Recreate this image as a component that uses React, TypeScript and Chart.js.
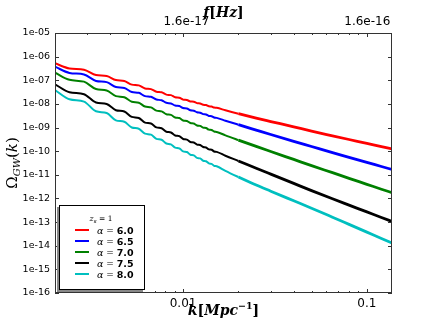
import React, { useEffect, useRef } from "react";
import { Chart, registerables } from "chart.js";

Chart.register(...registerables);

// wave number k [Mpc^-1] sample points
const kValues = [
  0.00201,
  0.00241, 0.00289,
  0.00336, 0.00384,
  0.00431, 0.00479,
  0.00526, 0.00574,
  0.00621, 0.00669,
  0.00716, 0.00764,
  0.00811, 0.00859,
  0.00906, 0.00954,
  0.01001, 0.01049,
  0.01096, 0.01144,
  0.01191, 0.01239,
  0.01286, 0.01334,
  0.01381, 0.01429,
  0.01476, 0.01524,
  0.017, 0.02, 0.025, 0.03, 0.04, 0.05, 0.065, 0.08, 0.1, 0.12, 0.137,
];

const omegaAlpha60 = [
  5.22e-7,
  3.16e-7, 2.79e-7,
  1.66e-7, 1.51e-7,
  1.022e-7, 9.36e-8,
  6.55e-8, 6.08e-8,
  4.5e-8, 4.22e-8,
  3.28e-8, 3.1e-8,
  2.47e-8, 2.35e-8,
  1.91e-8, 1.83e-8,
  1.52e-8, 1.46e-8,
  1.27e-8, 1.23e-8,
  1.08e-8, 1.04e-8,
  9.22e-9, 8.95e-9,
  7.95e-9, 7.75e-9,
  6.99e-9, 6.83e-9,
  5.37e-9, 3.85e-9, 2.51e-9, 1.8e-9, 1.07e-9, 7.07e-10, 4.47e-10, 3.12e-10, 2.13e-10, 1.55e-10, 1.24e-10,
];

const omegaAlpha65 = [
  3.75e-7,
  2.05e-7, 1.76e-7,
  9.4e-8, 8.37e-8,
  5.19e-8, 4.72e-8,
  3.2e-8, 2.95e-8,
  2.13e-8, 1.99e-8,
  1.53e-8, 1.43e-8,
  1.11e-8, 1.05e-8,
  8.53e-9, 8.12e-9,
  6.66e-9, 6.38e-9,
  5.37e-9, 5.16e-9,
  4.41e-9, 4.25e-9,
  3.7e-9, 3.57e-9,
  3.1e-9, 3.0e-9,
  2.65e-9, 2.57e-9,
  1.95e-9, 1.32e-9, 7.8e-10, 5.08e-10, 2.62e-10, 1.58e-10, 8.71e-11, 5.51e-11, 3.35e-11, 2.25e-11, 1.68e-11,
];

const omegaAlpha70 = [
  2.09e-7,
  1.043e-7, 8.75e-8,
  4.25e-8, 3.71e-8,
  2.14e-8, 1.92e-8,
  1.235e-8, 1.127e-8,
  7.73e-9, 7.14e-9,
  5.2e-9, 4.85e-9,
  3.65e-9, 3.43e-9,
  2.67e-9, 2.52e-9,
  2.0e-9, 1.9e-9,
  1.56e-9, 1.48e-9,
  1.226e-9, 1.174e-9,
  9.93e-10, 9.55e-10,
  8.14e-10, 7.84e-10,
  6.77e-10, 6.53e-10,
  4.67e-10, 2.95e-10, 1.59e-10, 9.7e-11, 4.47e-11, 2.45e-11, 1.23e-11, 7.11e-12, 3.97e-12, 2.46e-12, 1.75e-12,
];

const omegaAlpha75 = [
  6.75e-8,
  3.12e-8, 2.57e-8,
  1.152e-8, 9.94e-9,
  5.43e-9, 4.77e-9,
  2.83e-9, 2.54e-9,
  1.62e-9, 1.48e-9,
  1.016e-9, 9.34e-10,
  6.68e-10, 6.2e-10,
  4.62e-10, 4.31e-10,
  3.27e-10, 3.09e-10,
  2.46e-10, 2.34e-10,
  1.9e-10, 1.82e-10,
  1.5e-10, 1.44e-10,
  1.19e-10, 1.15e-10,
  9.74e-11, 9.36e-11,
  6.43e-11, 3.85e-11, 1.9e-11, 1.07e-11, 4.33e-12, 2.15e-12, 9.66e-13, 5.21e-13, 2.69e-13, 1.56e-13, 1.06e-13,
];

const omegaAlpha80 = [
  3.88e-8,
  1.57e-8, 1.249e-8,
  4.89e-9, 4.12e-9,
  2.02e-9, 1.754e-9,
  1.003e-9, 8.91e-10,
  5.51e-10, 4.99e-10,
  3.32e-10, 3.03e-10,
  2.11e-10, 1.95e-10,
  1.42e-10, 1.32e-10,
  9.83e-11, 9.2e-11,
  7.06e-11, 6.64e-11,
  5.22e-11, 4.94e-11,
  3.95e-11, 3.75e-11,
  3.04e-11, 2.9e-11,
  2.4e-11, 2.29e-11,
  1.47e-11, 8.08e-12, 3.68e-12, 2.03e-12, 7.98e-13, 3.87e-13, 1.61e-13, 7.99e-14, 3.76e-14, 2.03e-14, 1.3e-14,
];

const seriesList = [omegaAlpha60, omegaAlpha65, omegaAlpha70, omegaAlpha75, omegaAlpha80];
const alphaValues = ["6.0", "6.5", "7.0", "7.5", "8.0"];
const seriesColors = ["#ff0000", "#0000ff", "#008000", "#000000", "#00bfbf"];

const yTickValues = [1e-5, 1e-6, 1e-7, 1e-8, 1e-9, 1e-10, 1e-11, 1e-12, 1e-13, 1e-14, 1e-15, 1e-16];
const yTickLabels = ["1e-05", "1e-06", "1e-07", "1e-08", "1e-09", "1e-10", "1e-11", "1e-12", "1e-13", "1e-14", "1e-15", "1e-16"];
const xTickValues = [0.01, 0.1];
const xTickLabels = ["0.01", "0.1"];
const xMinorTicks = [0.003, 0.004, 0.005, 0.006, 0.007, 0.008, 0.009, 0.02, 0.03, 0.04, 0.05, 0.06, 0.07, 0.08, 0.09];
const fTickValues = [1.6e-17, 1.6e-16];
const fTickLabels = ["1.6e-17", "1.6e-16"];
const kMin = 0.00201;
const kMax = 0.137;
const hzPerK = 1.6e-15;
const yMin = 1e-16;
const yMax = 1e-5;

type Run = { text: string; font: string; dy?: number };

function drawRuns(ctx: CanvasRenderingContext2D, runs: Run[], x: number, y: number, align: "left" | "center") {
  let total = 0;
  for (const r of runs) {
    ctx.font = r.font;
    total += ctx.measureText(r.text).width;
  }
  let cx = align === "center" ? x - total / 2 : x;
  ctx.textAlign = "left";
  ctx.textBaseline = "alphabetic";
  for (const r of runs) {
    ctx.font = r.font;
    ctx.fillText(r.text, cx, y + (r.dy || 0));
    cx += ctx.measureText(r.text).width;
  }
}

const decorPlugin = {
  id: "decor",
  afterDatasetsDraw(chart: any) {
    const ctx: CanvasRenderingContext2D = chart.ctx;
    const { left, right, top, bottom } = chart.chartArea;
    const xs = chart.scales.x;
    const ys = chart.scales.y;
    ctx.save();
    // frame
    ctx.strokeStyle = "#333";
    ctx.lineWidth = 1;
    ctx.strokeRect(Math.round(left) + 0.5, Math.round(top) + 0.5, Math.round(right - left) - 1, Math.round(bottom - top) - 1);
    // ticks
    ctx.beginPath();
    for (const v of yTickValues) {
      const py = Math.round(ys.getPixelForValue(v)) + 0.5;
      ctx.moveTo(left, py);
      ctx.lineTo(left + 4, py);
      ctx.moveTo(right, py);
      ctx.lineTo(right - 4, py);
    }
    for (const v of xTickValues) {
      const px = Math.round(xs.getPixelForValue(v)) + 0.5;
      ctx.moveTo(px, bottom);
      ctx.lineTo(px, bottom - 4);
      ctx.moveTo(px, top);
      ctx.lineTo(px, top + 4);
    }
    for (const v of xMinorTicks) {
      const px = Math.round(xs.getPixelForValue(v)) + 0.5;
      ctx.moveTo(px, bottom);
      ctx.lineTo(px, bottom - 2);
      ctx.moveTo(px, top);
      ctx.lineTo(px, top + 2);
    }
    ctx.stroke();

    ctx.fillStyle = "#000";
    // y title
    ctx.save();
    ctx.translate(12, (top + bottom) / 2);
    ctx.rotate(-Math.PI / 2);
    drawRuns(
      ctx,
      [
        { text: "Ω", font: "15px 'DejaVu Serif'" },
        { text: "GW", font: "italic 10px 'DejaVu Serif'", dy: 3 },
        { text: "(", font: "15px 'DejaVu Serif'" },
        { text: "k", font: "italic 15px 'DejaVu Serif'" },
        { text: ")", font: "15px 'DejaVu Serif'" },
      ],
      0,
      5,
      "center"
    );
    ctx.restore();
    const cx = (left + right) / 2;
    // bottom title
    drawRuns(
      ctx,
      [
        { text: "k", font: "bold italic 14px 'DejaVu Serif'" },
        { text: "[", font: "bold 14px 'DejaVu Serif'" },
        { text: "Mpc", font: "bold italic 14px 'DejaVu Serif'" },
        { text: "−1", font: "bold 9.5px 'DejaVu Serif'", dy: -6 },
        { text: "]", font: "bold 14px 'DejaVu Serif'" },
      ],
      cx,
      315,
      "center"
    );
    // top title
    drawRuns(
      ctx,
      [
        { text: "f", font: "bold italic 14px 'DejaVu Serif'" },
        { text: "[", font: "bold 14px 'DejaVu Serif'" },
        { text: "Hz", font: "bold italic 14px 'DejaVu Serif'" },
        { text: "]", font: "bold 14px 'DejaVu Serif'" },
      ],
      cx,
      16.5,
      "center"
    );

    // legend
    const lx = 59, ly = 205, lw = 86, lh = 85;
    ctx.fillStyle = "#888";
    ctx.fillRect(lx - 2, ly + 2, lw, lh);
    ctx.fillStyle = "#fff";
    ctx.fillRect(lx, ly, lw, lh);
    ctx.strokeStyle = "#000";
    ctx.lineWidth = 1;
    ctx.strokeRect(lx + 0.5, ly + 0.5, lw - 1, lh - 1);
    ctx.fillStyle = "#000";
    drawRuns(
      ctx,
      [
        { text: "z", font: "italic 8px 'DejaVu Serif'" },
        { text: "s", font: "italic 5.5px 'DejaVu Serif'", dy: 2 },
        { text: " = 1", font: "7.5px 'DejaVu Serif'" },
      ],
      101,
      221,
      "center"
    );
    chart.data.datasets.forEach((ds: any, i: number) => {
      const ey = 230 + 11 * i;
      ctx.strokeStyle = ds.borderColor;
      ctx.lineWidth = 2;
      ctx.beginPath();
      ctx.moveTo(75, ey);
      ctx.lineTo(89, ey);
      ctx.stroke();
      ctx.fillStyle = "#000";
      drawRuns(
        ctx,
        [
          { text: "α", font: "italic 9.5px 'DejaVu Serif'" },
          { text: " = ", font: "9px 'DejaVu Serif'" },
          { text: alphaValues[i], font: "bold 9.5px 'DejaVu Sans'" },
        ],
        97,
        ey + 3.5,
        "left"
      );
    });
    ctx.restore();
  },
};

export default function App() {
  const canvasRef = useRef<HTMLCanvasElement | null>(null);

  useEffect(() => {
    if (!canvasRef.current) return;
    const datasets = seriesList.map((vals, i) => ({
      label: `α = ${alphaValues[i]}`,
      data: kValues.map((k, j) => ({ x: k, y: vals[j] })),
      borderColor: seriesColors[i],
      backgroundColor: seriesColors[i],
      borderWidth: 2.2,
      pointRadius: 0,
      cubicInterpolationMode: "monotone" as const,
      fill: false,
      xAxisID: "x",
      yAxisID: "y",
      segment: {
        borderWidth: (c: any) => (c.p0.parsed.x > 0.018 ? 2.8 : 2.0),
      },
    }));

    const chart = new Chart(canvasRef.current, {
      type: "line",
      data: { datasets },
      options: {
        responsive: false,
        animation: false,
        layout: { padding: { left: 0, right: 44, top: 0, bottom: 0 } },
        plugins: { legend: { display: false }, tooltip: { enabled: false } },
        scales: {
          x: {
            type: "logarithmic",
            position: "bottom",
            min: kMin,
            max: kMax,
            grid: { display: false, drawTicks: false },
            border: { display: false },
            afterBuildTicks: (s: any) => {
              s.ticks = xTickValues.map((v) => ({ value: v }));
            },
            afterFit: (s: any) => {
              s.height = 34;
            },
            ticks: {
              callback: (_v: any, i: number) => xTickLabels[i],
              font: { family: "'DejaVu Sans'", size: 12 },
              color: "#000",
              padding: 4,
              maxRotation: 0,
              autoSkip: false,
            },
          },
          x2: {
            type: "logarithmic",
            position: "top",
            min: kMin * hzPerK,
            max: kMax * hzPerK,
            grid: { display: false, drawTicks: false },
            border: { display: false },
            afterBuildTicks: (s: any) => {
              s.ticks = fTickValues.map((v) => ({ value: v }));
            },
            afterFit: (s: any) => {
              s.height = 33;
            },
            ticks: {
              callback: (_v: any, i: number) => fTickLabels[i],
              font: { family: "'DejaVu Sans'", size: 12 },
              color: "#000",
              padding: 4,
              maxRotation: 0,
              autoSkip: false,
            },
          },
          y: {
            type: "logarithmic",
            position: "left",
            min: yMin,
            max: yMax,
            grid: { display: false, drawTicks: false },
            border: { display: false },
            afterBuildTicks: (s: any) => {
              s.ticks = yTickValues.map((v) => ({ value: v }));
            },
            afterFit: (s: any) => {
              s.width = 55;
            },
            ticks: {
              callback: (_v: any, i: number) => yTickLabels[i],
              font: { family: "'DejaVu Sans'", size: 9.5 },
              color: "#000",
              padding: 5,
              autoSkip: false,
            },
          },
        },
      } as any,
      plugins: [decorPlugin],
    });
    return () => chart.destroy();
  }, []);

  return (
    <div style={{ position: "fixed", left: 0, top: 0, width: 436, height: 327, background: "#fff" }}>
      <canvas ref={canvasRef} width={436} height={327} style={{ display: "block" }} />
    </div>
  );
}
